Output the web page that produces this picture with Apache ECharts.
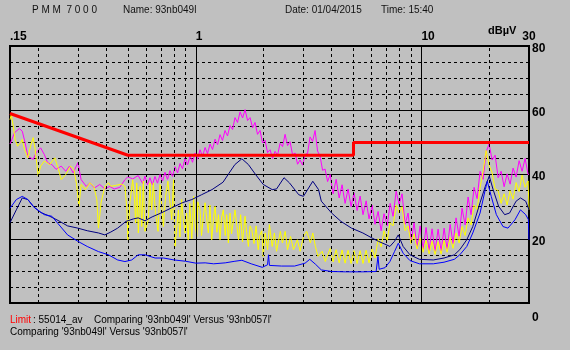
<!DOCTYPE html>
<html><head><meta charset="utf-8">
<script src="https://cdn.jsdelivr.net/npm/echarts@6/dist/echarts.min.js"></script>
<style>html,body{margin:0;padding:0;background:#c0c0c0}#c{width:570px;height:350px}</style>
</head><body><div id="c"></div><script>
// ---- axis / tick data ----
const xTickLabels = [0.15, 1, 10, 30];
const yTickLabels = [0, 20, 40, 60, 80];
const majorFreqs = [1, 10];
const minorFreqs = [0.2,0.3,0.4,0.5,0.6,0.7,0.8,0.9,2,3,4,5,6,7,8,9,20];

// ---- limit line (55014_av) [MHz, dBuV] ----
const limitLine = [[0.15,59],[0.5,46],[5,46],[5,50],[30,50]];

// ---- magenta trace ----
const magentaTrace = [
[0.15,49.5],[0.152,50.4],[0.157,53],[0.165,54.3],[0.17,53.5],[0.175,49.9],[0.18,45.7],[0.19,44.7],[0.196,46.8],[0.205,48.3],[0.213,46.2],[0.22,43.7],[0.23,43.1],[0.24,41.6],[0.253,42.6],[0.265,41],[0.275,42.6],[0.286,40.5],[0.3,43.7],[0.31,38.4],[0.327,36.3],[0.339,37.4],[0.355,35.8],[0.375,36.9],[0.395,35.5],[0.415,36.3],[0.435,35.5],[0.46,36],[0.485,38.4],[0.5,39.3],[0.525,38.6],[0.555,39.7],
[0.566,39.7],[0.581,37.2],[0.595,39.5],[0.610,36.8],[0.626,39],[0.642,36.8],[0.659,39.4],[0.676,37.3],[0.694,40],[0.712,38],[0.730,40.7],[0.749,38.5],[0.768,41.2],[0.788,39.4],[0.809,42.4],[0.830,40.5],[0.851,43.4],[0.873,41.8],[0.896,45],[0.919,43],[0.943,45.7],[0.967,43.8],[0.992,46.7],[1.018,44.8],[1.044,47.7],[1.071,45.6],[1.099,48.4],[1.127,46.5],[1.156,49.5],[1.186,47.8],[1.217,51],[1.249,49.3],[1.28,52.4],[1.313,50.6],[1.347,53.7],[1.382,52],[1.418,55.2],[1.455,54],[1.492,57.7],[1.531,56.2],[1.571,59.5],[1.612,57.6],[1.653,60.2],[1.696,56.8],[1.74,57.7],[1.785,54.5],[1.83,56.2],[1.877,52.5],[1.926,53.7],[1.976,49.8],[2.027,50.7],[2.08,46.8],[2.134,47.7],[2.189,45],[2.245,47.2],[2.303,46],[2.363,49.7],[2.424,48.7],[2.487,52.5],[2.551,49],[2.617,50.2],[2.685,46.1],[2.754,46.7],[2.825,43.2],[2.898,44.5],[2.973,42.9],[3.05,46.2],[3.129,46.6],[3.21,51.7],[3.293,50.3],[3.378,53.7],[3.466,47.3],[3.555,45.7],[3.647,41.3],[3.741,41.7],[3.838,37.8],
[3.94,40],[4.06,34],[4.19,38.5],[4.32,32.7],[4.45,36.8],[4.59,31],[4.73,35.5],[4.88,30],[5.03,34.3],[5.19,28.8],[5.35,33.3],[5.51,27.5],[5.69,31.8],[5.86,26.2],[6.05,30.5],[6.23,24.5],[6.43,28.5],[6.63,22.5],[6.83,27.8],[7.05,24],[7.27,31],[7.49,27],[7.73,34.8],[7.97,30.7],[8.21,34],[8.47,24.5],[8.73,28],[9.0,19],[9.28,25],[9.57,17.3],[9.87,24],[10.18,16.7],[10.49,23.5],[10.82,16.3],[11.15,23.1],[11.5,16],[11.86,23],[12.23,16.1],[12.61,23.3],[13.0,16.7],[13.41,24.5],[13.82,18.5],[14.25,26.5],[14.7,20.8],[15.15,29.5],[15.63,24.3],[16.11,33],[16.61,27.5],[17.13,36],[17.66,32.5],[18.21,41],[18.78,38.5],[19.36,47],[19.96,49.5],[20.59,44.5],[21.23,46],[21.89,39],[22.57,41],[23.27,36.2],[23.99,40.2],[24.74,37],[25.5,42],[26.3,39.2],[27.12,44.3],[27.96,41],[28.83,45],[29.73,40],[30,40]
];

// ---- yellow trace ----
const yellowTrace = [
[0.15,57],[0.152,58.8],[0.155,55.1],[0.158,50.9],[0.162,48.8],[0.167,49.9],[0.17,50.9],[0.174,47.8],[0.18,45.2],[0.185,48.8],[0.19,51.5],[0.194,47.8],[0.2,39.5],[0.205,42.6],[0.213,44.2],[0.225,43.1],[0.237,45.2],[0.245,42.1],[0.253,38.4],[0.265,40],[0.278,42.6],[0.288,41.6],[0.296,36.9],[0.303,30.1],[0.31,36.9],[0.324,35.3],[0.339,37.4],[0.353,36.3],[0.364,32.2],[0.37,23.3],[0.38,31.2],[0.395,36.3],[0.41,37.4],[0.42,36.3],[0.44,36.6],[0.47,37],[0.485,36.3],[0.495,29],[0.5,19.7],[0.51,31.2],[0.525,38.4],[0.535,32.2],[0.541,24.9],
[0.547,37.4],[0.556,21.8],[0.566,36.3],[0.576,23.8],[0.585,37.9],[0.595,22.3],[0.616,25.9],[0.626,37.4],[0.637,29],[0.648,37.4],[0.663,28],[0.68,22.3],[0.694,36.9],[0.718,23.8],[0.734,33.2],[0.752,37.9],[0.782,25.9],[0.796,38.4],
[0.809,17.6],[0.837,29],[0.85,20.5],[0.865,32.2],[0.88,26],[0.896,21.8],[0.91,28],[0.925,19.7],[0.94,31],[0.96,20],[0.978,33.2],[0.99,25],[1.01,20.7],[1.02,31.5],[1.044,29],[1.06,21],[1.08,27],[1.099,31.2],[1.12,25.5],[1.136,21.8],[1.155,30.5],[1.176,19.7],[1.2,27],[1.217,30.1],[1.24,22],[1.26,27.5],[1.28,19.7],[1.3,26.5],[1.324,29],[1.35,21],[1.37,27.5],[1.394,18.7],[1.418,28],[1.44,21.5],[1.47,26],[1.492,29],[1.52,24],[1.546,19.7],[1.58,27.5],[1.61,19],[1.653,27],[1.68,22],[1.71,17.6],[1.74,24],[1.77,22.8],[1.81,18.5],[1.85,24],[1.89,16.6],[1.92,21],[1.96,22.5],[1.99,14.5],
[2.03,21.8],[2.08,16.6],[2.12,24.4],[2.18,17.6],[2.23,21.8],[2.28,16.1],[2.37,22.3],[2.42,18.7],[2.49,22.3],[2.55,16.6],[2.63,20.7],[2.71,16.6],[2.82,19.7],[2.9,16.1],[3.0,20.7],[3.1,22.3],[3.22,18.7],[3.3,21.8],[3.39,17.6],[3.48,14.5],[3.63,16.1],[3.75,12.9],[3.87,15.5],
[3.94,17],[4.06,12.8],[4.19,16.6],[4.32,12.5],[4.45,16.5],[4.59,12.4],[4.73,16.4],[4.88,12.3],[5.03,16.3],[5.19,12.3],[5.35,16.3],[5.51,12.3],[5.69,16.4],[5.86,12.5],[6.05,16.8],[6.23,14],[6.43,20],[6.63,17.5],[6.83,22.5],[7.05,19.5],[7.27,25],[7.49,24],[7.73,30.5],[7.97,28],[8.21,30],[8.47,22.5],[8.73,24],[9.0,18.5],[9.28,21.5],[9.57,16.8],[9.87,20.2],[10.18,15.8],[10.49,19.5],[10.82,15.3],[11.15,19.2],[11.5,15.1],[11.86,19.1],[12.23,15.2],[12.61,19.4],[13.0,15.8],[13.41,20.4],[13.82,17],[14.25,21.8],[14.7,18.7],[15.15,23.8],[15.63,21],[16.11,26.5],[16.61,24.3],[17.13,30.5],[17.66,29],[18.21,36],[18.78,41],[19.36,47.5],[19.96,43],[20.59,40.5],[21.23,35.5],[21.89,35],[22.57,31],[23.27,34],[23.99,30.5],[24.74,35],[25.5,32.3],[26.3,37.5],[27.12,34.7],[27.96,39.8],[28.83,36],[29.73,38],[30,29]
];

// ---- navy trace ----
const navyTrace = [
[0.15,25],[0.152,25.4],[0.16,29],[0.17,32.7],[0.18,32.2],[0.19,30.1],[0.205,28.2],[0.225,27],[0.245,25.7],[0.27,24],[0.3,23.3],[0.33,22.5],[0.37,21.8],[0.395,21.2],[0.42,22.1],[0.45,23.3],[0.49,25.4],[0.53,26.2],[0.555,26.5],[0.595,25.6],[0.64,26.8],[0.7,28],[0.78,29.6],[0.87,31.2],[0.96,32.2],[1.06,33.7],[1.18,35.3],[1.32,37.6],[1.4,40.3],[1.49,43.1],[1.6,44.9],[1.71,43.1],[1.84,40],[1.99,36.9],[2.18,35.3],[2.28,35.5],[2.46,39],[2.6,37.4],[2.86,33.7],[3.0,33.2],[3.3,37.9],[3.5,35.3],[3.6,31.7],[4.0,28],[4.4,25.4],[4.9,23.3],[5.5,21.8],[6.05,20.2],[6.45,19.2],[6.9,18.3],[7.25,17.6],[7.6,19.2],[7.9,21.2],[8.3,17.6],[8.9,15],[9.8,13.6],[11.3,13.4],[12.6,14],[14,15],[14.8,16.6],[15.9,19.7],[16.9,23.8],[18.2,31.2],[19.2,36.3],[20,39.5],[20.8,35.3],[22,30.1],[23.4,27.5],[24.6,28],[26.3,31.7],[27.5,32.7],[29,31.7],[30,29]
];

// ---- blue trace ----
const blueTrace = [
[0.15,29.5],[0.152,29.9],[0.16,32.2],[0.17,33.2],[0.18,32.2],[0.193,29.6],[0.213,27.5],[0.23,27],[0.245,24.7],[0.27,21.2],[0.3,19.2],[0.33,17.6],[0.37,16],[0.41,15],[0.45,13.4],[0.485,12.9],[0.52,13.4],[0.555,15],[0.595,15],[0.66,14],[0.72,14],[0.8,13.4],[0.9,13],[1.0,12.4],[1.1,12.5],[1.2,12.2],[1.35,12.5],[1.49,13],[1.6,13.3],[1.76,12.2],[1.97,11.1],[2.08,11.9],[2.1,15],[2.12,11.7],[2.4,11.5],[2.74,11.5],[3.05,12.4],[3.2,13.6],[3.4,12],[3.6,10.3],[4,9.8],[4.6,9.7],[5.5,9.7],[6.3,9.8],[6.37,10],[6.42,14.5],[6.5,10.5],[6.9,11],[7.25,12.9],[7.6,16],[7.9,18.6],[8.3,15.5],[8.9,13.2],[9.8,12.2],[11.3,12.2],[12.6,12.7],[14,13.6],[14.8,15],[15.9,17.6],[16.9,21.8],[18.2,28],[19.2,35.3],[19.6,37.9],[20.4,33.2],[21.5,27.5],[23,23.8],[24.2,23.3],[26,25.9],[27.5,29],[29,27.5],[29.8,26],[30,19.7]
];

const chart = echarts.init(document.getElementById('c'), null, {renderer: 'canvas'});
const FONT = '"Liberation Sans", Arial, sans-serif';
function line(name, data, color, width, z) {
  return {name, type: 'line', data, showSymbol: false, symbol: 'none', silent: true,
    lineStyle: {color, width}, itemStyle: {color}, z, animation: false};
}
chart.setOption({
  backgroundColor: '#c0c0c0',
  animation: false,
  grid: {left: 10, right: 41, top: 46, bottom: 47, show: true, borderColor: '#000', borderWidth: 2, backgroundColor: 'transparent'},
  xAxis: {
    type: 'log', logBase: 10, min: 0.15, max: 30, position: 'top',
    axisLine: {show: false}, axisTick: {show: false},
    splitLine: {show: false},
    axisLabel: {
      show: true, margin: 3, color: '#000', fontFamily: FONT, fontWeight: 'bold', fontSize: 12,
      align: 'left', alignMaxLabel: 'center', showMinLabel: true, showMaxLabel: true,
      formatter: function (v) {
        const r = Math.round(v * 1000) / 1000;
        const hit = xTickLabels.find(t => Math.abs(t - r) < 1e-6);
        if (hit === undefined) return '';
        return hit < 1 ? String(hit).replace(/^0/, '') : String(hit);
      }
    }
  },
  yAxis: [{
    type: 'value', min: 0, max: 80, interval: 5, position: 'right',
    axisLine: {show: false}, axisTick: {show: false},
    splitLine: {show: true, lineStyle: {color: '#000', width: 1, type: [3, 3]}},
    axisLabel: {
      show: true, margin: 3, color: '#000', fontFamily: FONT, fontWeight: 'bold', fontSize: 12,
      padding: [5, 0, 0, 0],
      formatter: function (v) {
        if (!yTickLabels.includes(v)) return '';
        return v === 0 ? '{z|0}' : String(v);
      },
      rich: {z: {padding: [24, 0, 0, 0], fontWeight: 'bold', fontSize: 12, fontFamily: FONT, color: '#000'}}
    }
  }, {
    type: 'value', min: 0, max: 80, interval: 20, position: 'right',
    axisLine: {show: false}, axisTick: {show: false}, axisLabel: {show: false},
    splitLine: {show: true, lineStyle: {color: '#000', width: 1, type: 'solid'}}
  }],
  series: [
    {
      name: 'grid', type: 'line', data: [], silent: true, z: 1, animation: false,
      markLine: {
        silent: true, symbol: ['none', 'none'], animation: false,
        label: {show: false},
        lineStyle: {color: '#000', width: 1, type: [3, 3]},
        data: minorFreqs.map(f => ({xAxis: f})).concat(
          majorFreqs.map(f => ({xAxis: f, lineStyle: {type: 'solid', color: '#000', width: 1}})))
      }
    },
    line('magenta', magentaTrace, '#ff00ff', 1, 3),
    line('yellow', yellowTrace, '#ffff00', 1, 4),
    line('navy', navyTrace, '#000080', 1, 5),
    line('blue', blueTrace, '#0000ff', 1, 6),
    line('limit', limitLine, '#ff0000', 3, 7)
  ],
  graphic: [
    {type: 'text', left: 32, top: 5, style: {text: 'P M M  7 0 0 0', font: '10px ' + FONT, fill: '#111'}},
    {type: 'text', left: 123, top: 5, style: {text: 'Name: 93nb049l', font: '10px ' + FONT, fill: '#111'}},
    {type: 'text', left: 285, top: 5, style: {text: 'Date: 01/04/2015', font: '10px ' + FONT, fill: '#111'}},
    {type: 'text', left: 381, top: 5, style: {text: 'Time: 15:40', font: '10px ' + FONT, fill: '#111'}},
    {type: 'text', left: 488, top: 25, style: {text: 'dBµV', font: 'bold 11px ' + FONT, fill: '#000'}},
    {type: 'text', left: 10, top: 315, style: {text: 'Limit', font: '10px ' + FONT, fill: '#ff0000'}},
    {type: 'text', left: 33, top: 315, style: {text: ': 55014_av', font: '10px ' + FONT, fill: '#000'}},
    {type: 'text', left: 94, top: 315, style: {text: "Comparing '93nb049l' Versus '93nb057l'", font: '10px ' + FONT, fill: '#000'}},
    {type: 'text', left: 10, top: 327, style: {text: "Comparing '93nb049l' Versus '93nb057l'", font: '10px ' + FONT, fill: '#000'}}
  ]
});
</script></body></html>
